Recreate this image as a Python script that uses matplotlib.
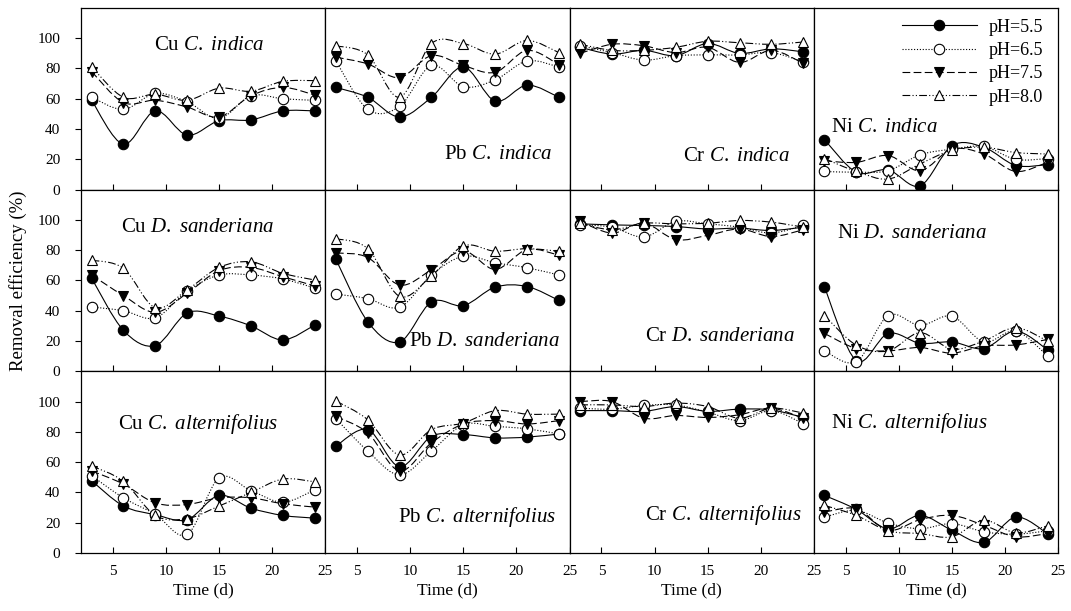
import numpy as np
import matplotlib.pyplot as plt
from matplotlib.path import Path
from matplotlib.patches import PathPatch
from matplotlib.lines import Line2D

plt.rcParams['font.family'] = 'Liberation Serif'
plt.rcParams['mathtext.fontset'] = 'custom'
plt.rcParams['mathtext.rm'] = 'Liberation Serif'
plt.rcParams['mathtext.it'] = 'Liberation Serif:italic'

# sampling days
time = [3, 6, 9, 12, 15, 18, 21, 24]
ph_labels = ['pH=5.5', 'pH=6.5', 'pH=7.5', 'pH=8.0']

# removal efficiency (%), rows = pH 5.5, 6.5, 7.5, 8.0
cu_ci = [[59, 30, 52, 36, 45.5, 46, 52, 52],
         [61, 53, 63.5, 58, 47, 62, 60, 59],
         [78, 57.5, 59, 54.5, 48, 62, 67.5, 62.5],
         [81, 61, 63, 59, 67, 65, 71.5, 72]]
pb_ci = [[67.5, 61, 48, 61, 81, 58.5, 69, 61],
         [85, 53, 55, 82, 68, 72.5, 85, 81],
         [87.5, 83, 74, 88.5, 82, 77.5, 92, 82.5],
         [95, 89, 61, 96.5, 96.5, 89.5, 98.5, 90.5]]
cr_ci = [[94, 89.5, 92, 88.5, 96.5, 90, 93, 91],
         [95, 90.5, 85.5, 88.5, 89, 89, 90.5, 84.5],
         [90, 96, 95, 90.5, 94, 84, 92, 83.5],
         [96, 92, 92, 94, 98, 97, 96, 97.5]]
ni_ci = [[33, 11.5, 13, 2.5, 29, 28, 16, 16.5],
         [12, 11.5, 12.5, 23, 26.7, 28.5, 20, 20.5],
         [19, 18, 22.5, 12.5, 26.7, 23.5, 12, 18],
         [20.5, 12, 7, 17, 26, 28, 24.5, 23.5]]

cu_ds = [[61.5, 27, 17, 38.5, 36.5, 30, 20.7, 30.5],
         [42.5, 40, 35.3, 53, 63.6, 63.6, 61, 55],
         [63.6, 50, 39, 51.6, 66.5, 68.6, 62.5, 56.4],
         [73.4, 68, 42, 53.8, 68.6, 72.3, 64.7, 60.3]]
pb_ds = [[74, 32.7, 19.4, 45.8, 43.4, 55.6, 56, 46.8],
         [51, 48, 42.3, 63.6, 76, 71.7, 68.4, 63.6],
         [78.2, 75.2, 57, 67, 79.5, 67.3, 80.4, 76.7],
         [87.6, 81, 49.5, 63, 82.8, 79.3, 81, 79.3]]
cr_ds = [[97.4, 96.7, 96.3, 95.6, 94, 94.5, 93, 95.2],
         [96.7, 95.2, 88.7, 99, 97.4, 95.2, 91.3, 96.3],
         [99, 91.3, 97.8, 87, 89.8, 94, 89, 93.5],
         [97.8, 93.5, 97.8, 97.4, 97.8, 99.6, 98.5, 95.2]]
ni_ds = [[55.5, 7, 25, 18.5, 19.4, 15, 26.6, 14.2],
         [13.5, 6.3, 36.8, 30.3, 36.4, 19.4, 26.6, 10.2],
         [25, 15, 13.5, 15.7, 12, 16.8, 17.4, 21],
         [36.8, 17.2, 13.5, 25.5, 14.6, 20, 28.8, 20]]

cu_ca = [[47.7, 31, 25.3, 22, 38, 29.6, 24.8, 23],
         [51, 36.4, 25.5, 12.2, 49.5, 41.2, 33.5, 41.6],
         [54.2, 45.5, 33, 32, 36.4, 36.4, 32.5, 30.3],
         [57.5, 47.3, 24.8, 22.7, 31, 40, 48.8, 47]]
pb_ca = [[70.6, 81.5, 57, 77, 78.2, 76, 76.5, 78.6],
         [88.7, 67.3, 51.6, 67.3, 84.7, 83.6, 82, 78.6],
         [90.2, 79.3, 54.2, 72.8, 85.2, 87.4, 85.2, 87.4],
         [100.4, 88, 64.7, 81.5, 85.8, 94, 91.7, 91.7]]
cr_ca = [[94, 94, 93.5, 96.7, 93.5, 95, 94.5, 89.5],
         [95.6, 95, 97.4, 97.8, 93, 87.4, 94, 85.4],
         [100, 100, 89, 90.8, 89.5, 91.3, 95.6, 89],
         [97.8, 97.8, 96.7, 99, 96.7, 89, 95.6, 92.4]]
ni_ca = [[38, 28.8, 16, 24.8, 15, 7, 23.7, 12.8],
         [23.7, 28.1, 19.8, 16, 19.4, 14, 12.4, 14.6],
         [27, 29.2, 15, 22, 24.8, 18.3, 10.7, 12.8],
         [31.4, 24.8, 14.6, 12.8, 10.7, 21.6, 13.3, 17.9]]

panels = [[cu_ci, pb_ci, cr_ci, ni_ci],
          [cu_ds, pb_ds, cr_ds, ni_ds],
          [cu_ca, pb_ca, cr_ca, ni_ca]]

metals = ['Cu', 'Pb', 'Cr', 'Ni']
plants = [['C.', 'indica'], ['D.', 'sanderiana'], ['C.', 'alternifolius']]
title_pos = [[(14.1, 95), (18.3, 23), (17.7, 22), (8.6, 41)],
             [(13.0, 95), (17.0, 20), (16.2, 23), (11.2, 91)],
             [(13.0, 85.5), (16.3, 24), (16.5, 25), (11.0, 86)]]

markers = ['o', 'o', 'v', '^']
faces = ['black', 'white', 'black', 'white']
lstyles = ['-', (0, (1, 1.6)), (0, (7, 3)), (0, (7, 2, 1, 2, 1, 2))]


def smooth_path(x, y):
    # Catmull-Rom curve through the points, drawn as cubic Bezier segments
    p = np.column_stack([x, y]).astype(float)
    verts = [p[0]]
    codes = [Path.MOVETO]
    n = len(p)
    for i in range(n - 1):
        p0 = p[i - 1] if i > 0 else p[i]
        p3 = p[i + 2] if i + 2 < n else p[i + 1]
        c1 = p[i] + (p[i + 1] - p0) / 6.0
        c2 = p[i + 1] - (p3 - p[i]) / 6.0
        verts += [c1, c2, p[i + 1]]
        codes += [Path.CURVE4] * 3
    return Path(verts, codes)


fig, axes = plt.subplots(3, 4, figsize=(10.71, 6.11), dpi=100)
fig.subplots_adjust(left=0.0756, right=0.988, top=0.987, bottom=0.095,
                    wspace=0, hspace=0)

for r in range(3):
    for c in range(4):
        ax = axes[r, c]
        data = panels[r][c]
        for k in range(4):
            ax.add_patch(PathPatch(smooth_path(time, data[k]), fill=False,
                                   edgecolor='black', lw=0.8,
                                   linestyle=lstyles[k], zorder=2))
            ax.plot(time, data[k], linestyle='none', marker=markers[k],
                    markersize=7.5, markerfacecolor=faces[k],
                    markeredgecolor='black', markeredgewidth=0.8, zorder=3)
        ax.set_xlim(2, 25)
        ax.set_ylim(0, 120)
        ax.set_xticks([5, 10, 15, 20, 25])
        ax.set_yticks([0, 20, 40, 60, 80, 100])
        ax.tick_params(axis='x', direction='in', length=4, width=0.8,
                       labelsize=11, pad=8.5)
        ax.tick_params(axis='y', direction='out', length=4, width=0.8,
                       labelsize=11, pad=11)
        if r < 2:
            ax.tick_params(axis='x', labelbottom=False)
        else:
            ax.set_xlabel('Time (d)', fontsize=12.5, labelpad=3)
        if c > 0:
            ax.tick_params(axis='y', left=False, labelleft=False)
        for s in ax.spines.values():
            s.set_linewidth(0.9)
        tx, ty = title_pos[r][c]
        genus, species = plants[r]
        label = metals[c] + ' $\\mathit{' + genus + '}$ $\\mathit{' + species + '}$'
        ax.text(tx, ty, label, ha='center', va='center', fontsize=15)

handles = [Line2D([], [], color='black', lw=0.8, linestyle=lstyles[k],
                  marker=markers[k], markersize=7.5, markerfacecolor=faces[k],
                  markeredgecolor='black', markeredgewidth=0.8)
           for k in range(4)]
axes[0, 3].legend(handles, ph_labels, loc='upper right', frameon=False,
                  fontsize=13, handlelength=4.2, handletextpad=0.65,
                  labelspacing=0.35, borderaxespad=0.2, numpoints=1,
                  bbox_to_anchor=(0.985, 1.0))

fig.text(0.017, 0.54, 'Removal efficiency (%)', rotation=90,
         ha='center', va='center', fontsize=13.5)

fig.savefig('out.png', dpi=100)
